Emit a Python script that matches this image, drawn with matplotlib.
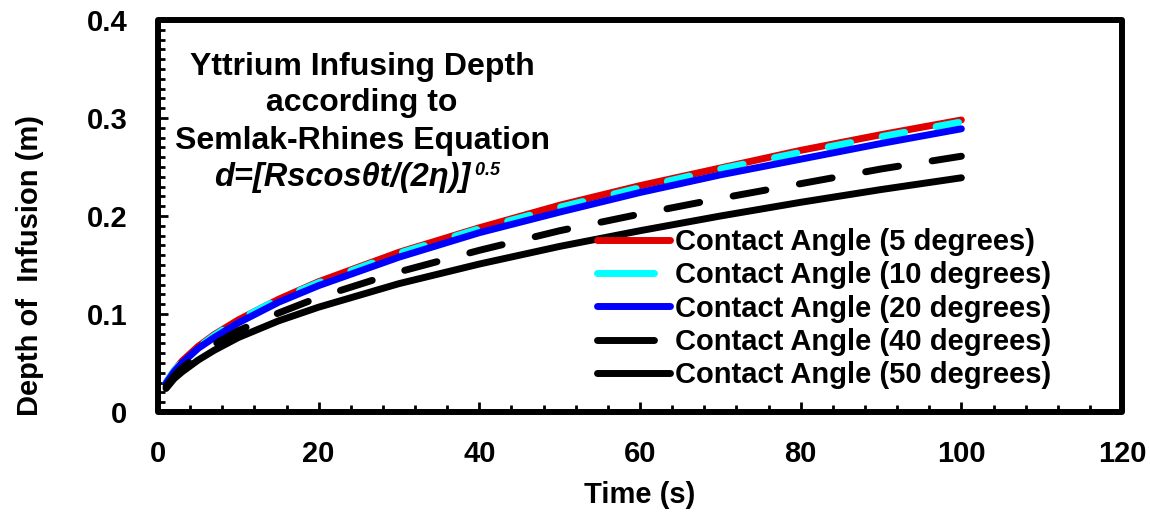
import matplotlib
matplotlib.use('Agg')
import matplotlib.pyplot as plt
from matplotlib.patches import Rectangle
from matplotlib.ticker import MultipleLocator

plt.rcParams['font.family'] = 'Liberation Sans'
plt.rcParams['font.weight'] = 'bold'

## data (time in s, depth in m)
time_s = [1, 2, 3, 5, 7, 10, 15, 20, 30, 40, 50, 60, 70, 80, 90, 100]
depth_5 = [0.030, 0.042, 0.052, 0.067, 0.079, 0.094, 0.115, 0.133, 0.163, 0.188,
           0.211, 0.231, 0.249, 0.267, 0.283, 0.298]
depth_10 = [0.030, 0.042, 0.051, 0.066, 0.078, 0.094, 0.115, 0.132, 0.162, 0.187,
            0.209, 0.229, 0.248, 0.265, 0.281, 0.296]
depth_20 = [0.029, 0.041, 0.050, 0.065, 0.076, 0.091, 0.112, 0.129, 0.158, 0.183,
            0.204, 0.224, 0.242, 0.258, 0.274, 0.289]
depth_40 = [0.026, 0.037, 0.045, 0.058, 0.069, 0.083, 0.101, 0.117, 0.143, 0.165,
            0.185, 0.202, 0.218, 0.233, 0.248, 0.261]
depth_50 = [0.024, 0.034, 0.041, 0.053, 0.063, 0.076, 0.093, 0.107, 0.131, 0.151,
            0.169, 0.185, 0.200, 0.214, 0.227, 0.239]

labels = ['Contact Angle (5 degrees)', 'Contact Angle (10 degrees)',
          'Contact Angle (20 degrees)', 'Contact Angle (40 degrees)',
          'Contact Angle (50 degrees)']
title_lines = ['Yttrium Infusing Depth', 'according to', 'Semlak-Rhines Equation']

fig = plt.figure(figsize=(11.5, 5.12), dpi=100)
ax = fig.add_axes([0.1374, 0.1953, 0.8383, 0.7656])

lw = 5
ax.plot(time_s, depth_5, color='#e00000', lw=lw, solid_capstyle='round', label=labels[0])
ax.plot(time_s, depth_10, color='#00ffff', lw=lw, dashes=(3.3, 4.6),
        dash_capstyle='round', label=labels[1])
ax.plot(time_s, depth_20, color='#0000ff', lw=lw, solid_capstyle='round', label=labels[2])
ax.plot(time_s, depth_40, color='black', lw=lw, dashes=(4.8, 4.9),
        dash_capstyle='round', label=labels[3])
ax.plot(time_s, depth_50, color='black', lw=lw, solid_capstyle='round', label=labels[4])

ax.set_xlim(0, 120)
ax.set_ylim(0, 0.4)
ax.xaxis.set_major_locator(MultipleLocator(20))
ax.xaxis.set_minor_locator(MultipleLocator(4))
ax.yaxis.set_major_locator(MultipleLocator(0.1))
ax.yaxis.set_minor_locator(MultipleLocator(0.01))
ax.yaxis.set_major_formatter(plt.FuncFormatter(lambda v, p: '0' if v == 0 else '%.1f' % v))

ax.tick_params(which='both', direction='in', labelsize=21, width=2)
ax.tick_params(which='major', length=7)
ax.tick_params(which='minor', length=5)
ax.tick_params(axis='x', which='major', pad=20)
ax.tick_params(axis='y', which='major', pad=22)

for s in ax.spines.values():
    s.set_visible(False)
ax.add_patch(Rectangle((0, 0), 1, 1, transform=ax.transAxes, fill=False,
                       lw=4.3, joinstyle='round', clip_on=False, zorder=5))

ax.set_xlabel('Time (s)', fontsize=21, fontweight='bold')
ax.xaxis.set_label_coords(0.5, -0.175)
ax.set_ylabel('Depth of  Infusion (m)', fontsize=21, fontweight='bold')
ax.yaxis.set_label_coords(-0.118, 0.375)

## text block in the upper left
for y, line in zip([0.880, 0.788, 0.691], title_lines):
    ax.text(0.2116, y, line, transform=ax.transAxes, ha='center', va='center', fontsize=23)
formula = ax.text(0.191, 0.599, 'd=[Rscos\u03b8t/(2\u03b7)]', transform=ax.transAxes,
                  ha='center', va='center', fontsize=23.5, fontstyle='italic')
ax.annotate(' 0.5', xy=(1, 1), xycoords=formula, ha='left', va='top',
            fontsize=13, fontstyle='italic', fontweight='bold')

leg = ax.legend(loc='upper left', bbox_to_anchor=(0.455, 0.469), frameon=False,
                fontsize=21, handlelength=2.5, handletextpad=0.2, labelspacing=0.18,
                borderpad=0, borderaxespad=0)
# dashed handles show as a single short dash in the original legend
for h in leg.get_lines()[1::2]:
    h.set_dashes((8.2, 6))

fig.savefig('out.png', dpi=100)
